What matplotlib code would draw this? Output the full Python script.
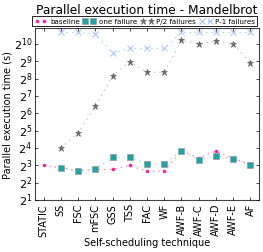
import numpy as np
import matplotlib
matplotlib.use('Agg')
import matplotlib.pyplot as plt

techniques = ['STATIC', 'SS', 'FSC', 'mFSC', 'GSS', 'TSS', 'FAC', 'WF',
              'AWF-B', 'AWF-C', 'AWF-D', 'AWF-E', 'AF']

# log2 of the parallel execution time (s)
baseline_log2 = [3.00, 2.87, 2.70, 2.77, 2.77, 3.00, 2.67, 2.67, 3.85, 3.42, 3.83, 3.39, 3.04]
one_failure_log2 = [np.nan, 2.87, 2.67, 2.81, 3.46, 3.50, 3.08, 3.08, 3.85, 3.29, 3.56, 3.37, 3.04]
half_failures_log2 = [np.nan, 4.00, 4.87, 6.41, 8.17, 8.98, 8.37, 8.37, 10.21, 10.02, 10.17, 10.02, 8.90]
p1_failures_log2 = [np.nan, 10.67, 10.67, 10.59, 9.46, 9.75, 9.75, 9.75, 10.67, 10.67, 10.67, 10.67, 10.67]

plt.style.use('classic')
plt.rcParams['font.family'] = 'DejaVu Sans'

fig = plt.figure(figsize=(2.63, 2.53), dpi=100, facecolor='white')
ax = fig.add_axes([0.133, 0.205, 0.852, 0.68])

x = np.arange(len(techniques))
baseline = 2.0 ** np.array(baseline_log2)
one_failure = 2.0 ** np.array(one_failure_log2)
half_failures = 2.0 ** np.array(half_failures_log2)
p1_failures = 2.0 ** np.array(p1_failures_log2)

ax.plot(x, baseline, color='#ff69b4', linestyle=':', linewidth=0.8, marker='.',
        markersize=4, markerfacecolor='#ff1493', markeredgecolor='#ff1493', label='baseline')
ax.plot(x, one_failure, color='#8fd6d6', linestyle=':', linewidth=0.8, marker='s',
        markersize=4.2, markerfacecolor='#1fa3a3', markeredgecolor='#9a9a9a',
        markeredgewidth=0.5, label='one failure')
ax.plot(x, half_failures, color='#c0c0c0', linestyle=':', linewidth=0.8, marker='*',
        markersize=4.5, markerfacecolor='#666666', markeredgecolor='#666666',
        label='P/2 failures')
ax.plot(x, p1_failures, color='#a6c8f5', linestyle=':', linewidth=0.8, marker='x',
        markersize=4, markeredgecolor='#9ec3f5', markeredgewidth=0.7, label='P-1 failures')

ax.set_yscale('log', base=2)
ax.set_ylim(2.0, 2.0 ** 10.92)
ax.set_xlim(-0.5, len(techniques) - 0.5)
ax.set_yticks([2.0 ** k for k in range(1, 11)])
ax.yaxis.set_minor_locator(matplotlib.ticker.NullLocator())
ax.set_xticks(x)
ax.set_xticklabels(techniques, rotation=90, fontsize=7)
ax.tick_params(axis='y', labelsize=8, direction='in', length=2, pad=2)
ax.tick_params(axis='x', direction='in', length=2, pad=2)
for spine in ax.spines.values():
    spine.set_color('#444444')
    spine.set_linewidth(0.8)

ax.set_xlabel('Self-scheduling technique', fontsize=7, labelpad=1)
ax.set_ylabel('Parallel execution time (s)', fontsize=7, labelpad=1)
ax.set_title('Parallel execution time - Mandelbrot', fontsize=8.8, pad=11)

leg = ax.legend(loc='lower center', bbox_to_anchor=(0.49, 1.0), ncol=4,
                fontsize=5.1, numpoints=2, handlelength=1.7, handletextpad=0.5,
                columnspacing=0.5, borderpad=0.3, borderaxespad=0.25, frameon=True)
leg.get_frame().set_linewidth(0.6)

fig.savefig('out.png', dpi=100, facecolor='white')
